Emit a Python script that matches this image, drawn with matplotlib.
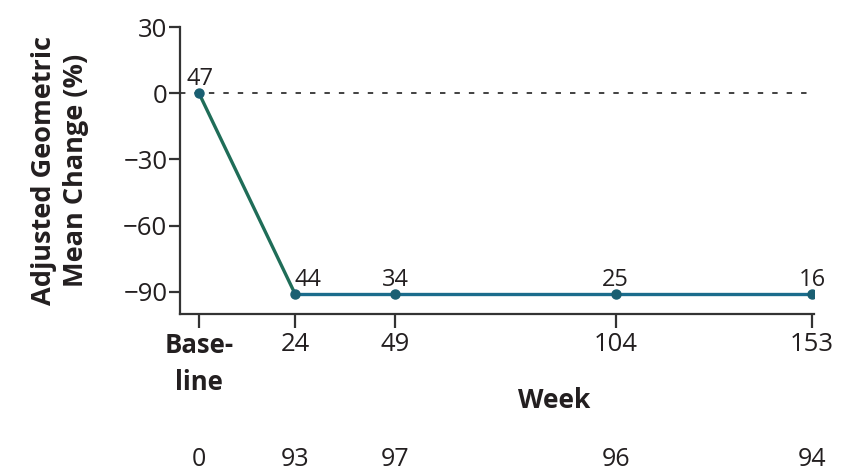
import matplotlib
matplotlib.use("Agg")
import matplotlib.pyplot as plt
from matplotlib.transforms import blended_transform_factory

plt.rcParams['font.family'] = ['Open Sans', 'DejaVu Sans']

weeks = [0, 24, 49, 104, 153]
tick_labels = ["Base-\nline", "24", "49", "104", "153"]
mean_change = [0, -91, -91, -91, -91]
n_measured = [47, 44, 34, 25, 16]
n_at_risk = [0, 93, 97, 96, 94]

text_color = "#231f20"
axis_color = "#333333"

fig = plt.figure(figsize=(8.41, 4.72), dpi=100)
ax = fig.add_axes([0.214, 0.3347, 0.754, 0.608])

ax.axhline(0, color=axis_color, lw=1.3, ls=(0, (3, 5)), zorder=1)

green = "#1f6d58"
blue = "#1b6c8c"
ax.plot(weeks[:2], mean_change[:2], color=green, lw=2.4, zorder=2)
ax.plot(weeks[1:], mean_change[1:], color=blue, lw=2.4, zorder=2)
ax.plot(weeks, mean_change, ls="none", marker="o", ms=6.5, color="#1a5f72", zorder=3)

offsets = [(1, 6), (9, 6), (0, 6), (0, 6), (0, 6)]
for x, y, n, (dx, dy) in zip(weeks, mean_change, n_measured, offsets):
    ax.annotate(str(n), (x, y), xytext=(dx, dy), textcoords="offset points",
                ha="center", va="baseline", fontsize=17, color=text_color)

ax.set_xlim(-4.75, 153.5)
ax.set_ylim(-100, 30)
ax.set_yticks([30, 0, -30, -60, -90])
ax.set_xticks(weeks)
ax.set_xticklabels(tick_labels)
for lbl in ax.get_xticklabels():
    lbl.set_linespacing(1.45)
ax.get_xticklabels()[0].set_fontweight("bold")

for side in ("top", "right"):
    ax.spines[side].set_visible(False)
for side in ("left", "bottom"):
    ax.spines[side].set_color(axis_color)
    ax.spines[side].set_linewidth(1.6)

ax.tick_params(axis="y", direction="out", length=8, width=1.6, color=axis_color,
               labelsize=18.5, labelcolor=text_color, pad=1)
ax.tick_params(axis="x", direction="out", length=10, width=1.6, color=axis_color,
               labelsize=18.5, labelcolor=text_color, pad=3)

ax.set_ylabel("Adjusted Geometric\nMean Change (%)", fontsize=19.5,
              fontweight="bold", color=text_color, linespacing=1.28, labelpad=25)

trans = blended_transform_factory(ax.transData, fig.transFigure)
ax.text(88.6, 1 - 401 / 472, "Week", transform=trans, ha="center", va="center",
        fontsize=19, fontweight="bold", color=text_color)
for x, n in zip(weeks, n_at_risk):
    ax.text(x, 1 - 459 / 472, str(n), transform=trans, ha="center", va="center",
            fontsize=18, color=text_color)

fig.savefig("out.png", dpi=100, facecolor="white")
